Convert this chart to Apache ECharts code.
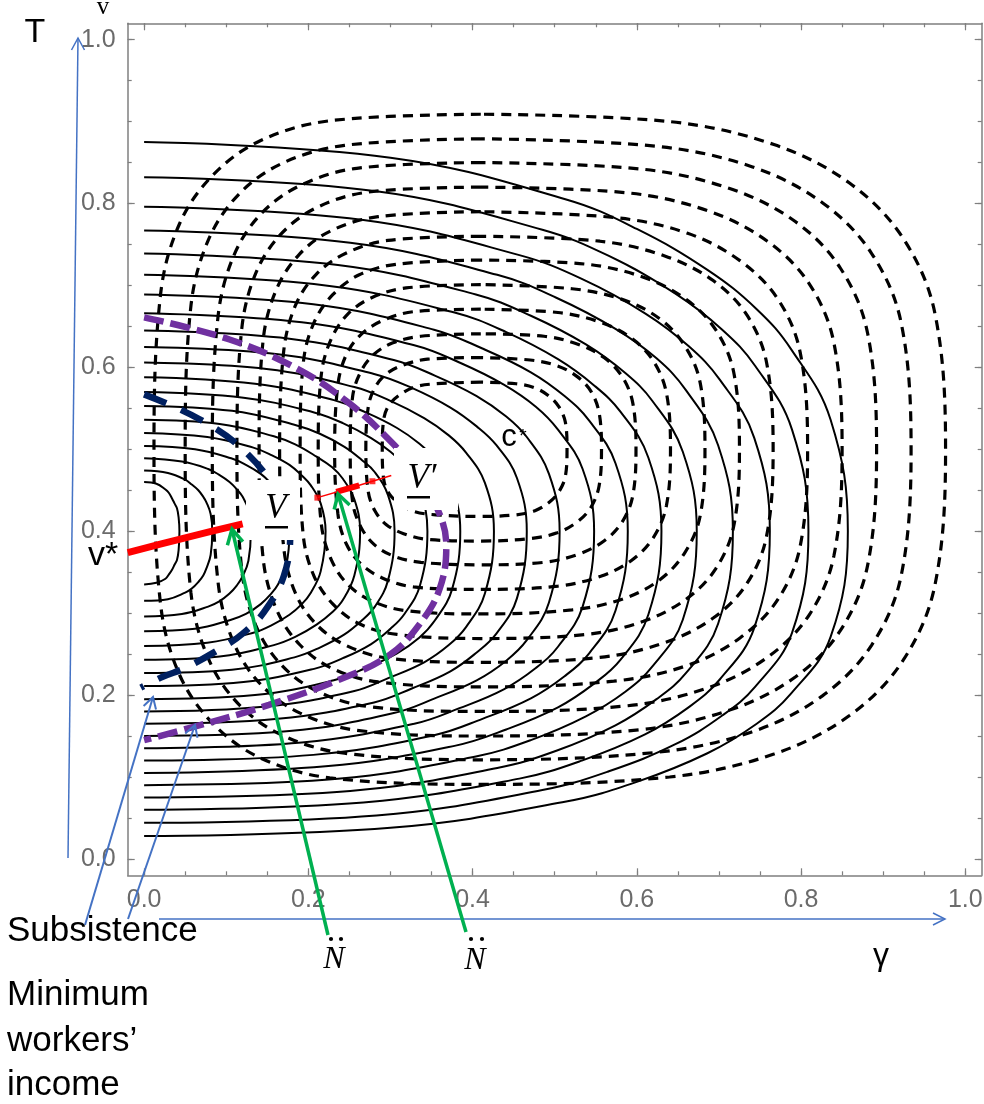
<!DOCTYPE html>
<html><head><meta charset="utf-8">
<script src="https://cdn.jsdelivr.net/npm/echarts@6/dist/echarts.min.js"></script>
<style>html,body{margin:0;padding:0;background:#fff}#c{width:984px;height:1104px}</style>
</head><body><div id="c"></div>
<script>
// ---------- data ----------
const majorTicks = [0, 0.2, 0.4, 0.6, 0.8, 1.0];
const minorTicks = [0, 0.05, 0.1, 0.15, 0.2, 0.25, 0.3, 0.35, 0.4, 0.45, 0.5, 0.55, 0.6, 0.65, 0.7, 0.75, 0.8, 0.85, 0.9, 0.95, 1.0];

// solid level curves (opening to the left), outermost first
const solidCurves = [
 [[0,.875],[.300,.856],[.514,.805],[.600,.769],[.686,.719],[.746,.671],[.788,.622],[.836,.536],[.857,.400],[.836,.271],[.788,.202],[.746,.165],[.686,.129],[.600,.094],[.514,.070],[.300,.038],[0,.028]],
 [[0,.832],[.283,.815],[.485,.768],[.566,.736],[.647,.690],[.704,.646],[.744,.602],[.789,.524],[.809,.400],[.789,.276],[.744,.210],[.704,.175],[.647,.140],[.566,.107],[.485,.084],[.283,.053],[0,.044]],
 [[0,.796],[.267,.780],[.457,.737],[.533,.708],[.610,.666],[.663,.626],[.701,.585],[.743,.514],[.762,.400],[.743,.282],[.701,.219],[.663,.185],[.610,.152],[.533,.120],[.457,.098],[.267,.069],[0,.060]],
 [[0,.767],[.251,.752],[.430,.713],[.502,.685],[.574,.647],[.624,.611],[.660,.572],[.699,.505],[.717,.400],[.699,.287],[.660,.227],[.624,.195],[.574,.163],[.502,.132],[.430,.111],[.251,.083],[0,.075]],
 [[0,.739],[.236,.725],[.404,.689],[.471,.663],[.538,.628],[.586,.593],[.619,.559],[.656,.497],[.673,.400],[.656,.292],[.619,.235],[.586,.204],[.538,.174],[.471,.145],[.404,.125],[.236,.098],[0,.090]],
 [[0,.713],[.221,.700],[.378,.667],[.441,.643],[.504,.610],[.548,.578],[.580,.546],[.614,.490],[.630,.400],[.614,.298],[.580,.243],[.548,.214],[.504,.185],[.441,.158],[.378,.138],[.221,.113],[0,.105]],
 [[0,.689],[.206,.677],[.353,.646],[.412,.623],[.471,.594],[.512,.565],[.542,.535],[.574,.483],[.589,.400],[.574,.303],[.542,.251],[.512,.223],[.471,.196],[.412,.171],[.353,.151],[.206,.127],[0,.120]],
 [[0,.666],[.192,.655],[.329,.627],[.384,.606],[.438,.579],[.477,.552],[.504,.524],[.534,.476],[.548,.400],[.534,.308],[.504,.259],[.477,.233],[.438,.207],[.384,.184],[.329,.165],[.192,.142],[0,.135]],
 [[0,.645],[.177,.635],[.304,.609],[.354,.590],[.405,.565],[.441,.540],[.466,.515],[.493,.470],[.506,.400],[.493,.313],[.466,.267],[.441,.242],[.405,.218],[.354,.196],[.304,.178],[.177,.156],[0,.150]],
 [[0,.625],[.163,.616],[.280,.592],[.326,.575],[.373,.551],[.405,.528],[.429,.505],[.454,.465],[.466,.400],[.454,.318],[.429,.275],[.405,.252],[.373,.229],[.326,.208],[.280,.191],[.163,.171],[0,.165]],
 [[0,.606],[.149,.598],[.256,.576],[.298,.560],[.341,.538],[.371,.517],[.392,.496],[.415,.459],[.426,.400],[.415,.324],[.392,.283],[.371,.261],[.341,.240],[.298,.221],[.256,.205],[.149,.186],[0,.180]],
 [[0,.588],[.135,.580],[.231,.560],[.270,.545],[.308,.526],[.335,.507],[.354,.488],[.375,.454],[.385,.400],[.375,.329],[.354,.291],[.335,.270],[.308,.251],[.270,.233],[.231,.218],[.135,.200],[0,.195]],
 [[0,.570],[.121,.563],[.207,.545],[.242,.532],[.276,.514],[.300,.497],[.317,.480],[.336,.449],[.345,.400],[.336,.334],[.317,.299],[.300,.281],[.276,.262],[.242,.245],[.207,.232],[.121,.216],[0,.211]],
 [[0,.553],[.107,.547],[.183,.530],[.214,.519],[.244,.503],[.265,.487],[.281,.472],[.297,.444],[.305,.400],[.297,.340],[.281,.308],[.265,.291],[.244,.274],[.214,.258],[.183,.246],[.107,.231],[0,.227]],
 [[0,.536],[.092,.531],[.158,.516],[.184,.506],[.210,.491],[.229,.478],[.242,.464],[.256,.439],[.263,.400],[.256,.346],[.242,.316],[.229,.301],[.210,.286],[.184,.271],[.158,.261],[.092,.247],[0,.243]],
 [[0,.520],[.077,.515],[.133,.502],[.155,.493],[.177,.481],[.192,.468],[.203,.456],[.215,.434],[.221,.400],[.215,.351],[.203,.325],[.192,.311],[.177,.298],[.155,.285],[.133,.276],[.077,.264],[0,.260]],
 [[0,.504],[.062,.500],[.106,.489],[.124,.481],[.142,.470],[.154,.459],[.163,.449],[.173,.430],[.177,.400],[.173,.358],[.163,.335],[.154,.323],[.142,.311],[.124,.299],[.106,.292],[.062,.281],[0,.278]],
 [[0,.489],[.046,.485],[.078,.476],[.091,.469],[.104,.460],[.113,.451],[.120,.442],[.127,.426],[.130,.400],[.127,.364],[.120,.345],[.113,.334],[.104,.324],[.091,.314],[.078,.308],[.046,.299],[0,.296]],
 [[0,.474],[.029,.471],[.050,.463],[.058,.457],[.066,.450],[.072,.442],[.076,.435],[.081,.421],[.083,.400],[.081,.371],[.076,.355],[.072,.346],[.066,.338],[.058,.330],[.050,.325],[.029,.317],[0,.315]],
 [[0,.460],[.015,.458],[.026,.451],[.030,.447],[.034,.440],[.037,.434],[.040,.428],[.042,.417],[.043,.400],[.042,.377],[.040,.365],[.037,.359],[.034,.353],[.030,.347],[.026,.342],[.015,.337],[0,.335]]
];

// dashed closed orbits around c*, outermost first
const orbitCurves = [
 [[.410,.909],[.226,.901],[.142,.877],[.084,.835],[.043,.775],[.020,.689],[.012,.500],[.020,.311],[.043,.225],[.084,.165],[.142,.123],[.226,.099],[.410,.091],[.640,.100],[.767,.128],[.859,.175],[.924,.242],[.963,.334],[.976,.500],[.963,.666],[.924,.758],[.859,.825],[.767,.872],[.640,.900],[.410,.909]],
 [[.410,.879],[.244,.871],[.168,.849],[.115,.811],[.078,.755],[.057,.675],[.050,.500],[.057,.325],[.078,.245],[.115,.189],[.168,.151],[.244,.129],[.410,.121],[.623,.130],[.740,.155],[.826,.199],[.886,.261],[.922,.346],[.934,.500],[.922,.654],[.886,.739],[.826,.801],[.740,.845],[.623,.870],[.410,.879]],
 [[.410,.850],[.259,.843],[.190,.822],[.142,.787],[.109,.736],[.090,.662],[.083,.500],[.090,.338],[.109,.264],[.142,.213],[.190,.178],[.259,.157],[.410,.150],[.606,.158],[.714,.182],[.793,.222],[.848,.279],[.881,.358],[.892,.500],[.881,.642],[.848,.721],[.793,.778],[.714,.818],[.606,.842],[.410,.850]],
 [[.410,.820],[.273,.814],[.210,.795],[.166,.762],[.136,.715],[.119,.648],[.113,.500],[.119,.352],[.136,.285],[.166,.238],[.210,.205],[.273,.186],[.410,.180],[.589,.187],[.687,.209],[.759,.246],[.810,.298],[.840,.370],[.850,.500],[.840,.630],[.810,.702],[.759,.754],[.687,.791],[.589,.813],[.410,.820]],
 [[.410,.790],[.285,.784],[.228,.767],[.189,.738],[.161,.695],[.145,.634],[.140,.500],[.145,.366],[.161,.305],[.189,.262],[.228,.233],[.285,.216],[.410,.210],[.572,.217],[.661,.236],[.726,.270],[.772,.317],[.799,.382],[.808,.500],[.799,.618],[.772,.683],[.726,.730],[.661,.764],[.572,.783],[.410,.790]],
 [[.410,.760],[.297,.755],[.245,.739],[.209,.713],[.184,.675],[.170,.620],[.165,.500],[.170,.380],[.184,.325],[.209,.287],[.245,.261],[.297,.245],[.410,.240],[.555,.246],[.634,.264],[.693,.294],[.734,.336],[.758,.394],[.766,.500],[.758,.606],[.734,.664],[.693,.706],[.634,.736],[.555,.754],[.410,.760]],
 [[.410,.731],[.308,.726],[.262,.713],[.230,.689],[.207,.655],[.194,.607],[.190,.500],[.194,.393],[.207,.345],[.230,.311],[.262,.287],[.308,.274],[.410,.269],[.538,.274],[.608,.290],[.660,.317],[.696,.354],[.718,.406],[.725,.500],[.718,.594],[.696,.646],[.660,.683],[.608,.710],[.538,.726],[.410,.731]],
 [[.410,.701],[.319,.697],[.277,.685],[.248,.665],[.228,.635],[.216,.593],[.212,.500],[.216,.407],[.228,.365],[.248,.335],[.277,.315],[.319,.303],[.410,.299],[.521,.304],[.582,.317],[.627,.340],[.658,.373],[.677,.418],[.683,.500],[.677,.582],[.658,.627],[.627,.660],[.582,.683],[.521,.696],[.410,.701]],
 [[.410,.671],[.328,.668],[.290,.657],[.264,.640],[.246,.615],[.236,.579],[.232,.500],[.236,.421],[.246,.385],[.264,.360],[.290,.343],[.328,.332],[.410,.329],[.504,.333],[.556,.345],[.593,.364],[.620,.392],[.636,.431],[.641,.500],[.636,.569],[.620,.608],[.593,.636],[.556,.655],[.504,.667],[.410,.671]],
 [[.410,.641],[.337,.638],[.303,.630],[.280,.616],[.264,.595],[.254,.565],[.251,.500],[.254,.435],[.264,.405],[.280,.384],[.303,.370],[.337,.362],[.410,.359],[.487,.362],[.529,.372],[.560,.388],[.582,.411],[.595,.443],[.599,.500],[.595,.557],[.582,.589],[.560,.612],[.529,.628],[.487,.638],[.410,.641]],
 [[.410,.612],[.345,.610],[.316,.603],[.295,.592],[.281,.575],[.273,.552],[.270,.500],[.273,.448],[.281,.425],[.295,.408],[.316,.397],[.345,.390],[.410,.388],[.470,.391],[.503,.398],[.527,.411],[.544,.429],[.554,.455],[.557,.500],[.554,.545],[.544,.571],[.527,.589],[.503,.602],[.470,.609],[.410,.612]],
 [[.410,.582],[.355,.580],[.329,.576],[.312,.567],[.299,.555],[.292,.538],[.290,.500],[.292,.462],[.299,.445],[.312,.433],[.329,.424],[.355,.420],[.410,.418],[.453,.420],[.476,.425],[.493,.435],[.505,.448],[.513,.467],[.515,.500],[.513,.533],[.505,.552],[.493,.565],[.476,.575],[.453,.580],[.410,.582]]
];

// minimum workers' income curve (purple) and subsistence curve (navy)
const purpleCurve = [[0,.661],[.104,.634],[.189,.597],[.250,.556],[.295,.515],[.330,.475],[.356,.430],[.368,.383],[.360,.330],[.335,.286],[.299,.249],[.238,.219],[.152,.188],[.067,.163],[0,.145]];
const navyCurve = [[0,.567],[.067,.537],[.120,.500],[.160,.450],[.178,.400],[.170,.345],[.145,.300],[.120,.275],[.100,.261],[.052,.234],[.022,.222],[-.004,.209]];

// v* path (thick red) and its continuation (thin red)
const redThick = [[-.02,.374],[.05,.392],[.12,.409]];
const redThin = [[.211,.441],[.245,.451],[.278,.461],[.301,.468]];
const redThinBold = [[.234,.448],[.262,.456]];
const redMarkers = [[.211,.441],[.278,.461]];

// ---------- chart ----------
const AX = '#7f7f7f';
function axisDef(pos, ticks, showLabels, len, showLine) {
  return {
    type: 'value', min: -0.02, max: 1.02, position: pos,
    axisLine: {show: showLine, onZero: false, lineStyle: {color: AX, width: 1.5}},
    axisTick: {show: true, inside: true, length: len, customValues: ticks, lineStyle: {color: AX, width: 1.2}},
    axisLabel: {show: showLabels, customValues: ticks, margin: 12, color: '#6b6b6b', fontSize: 25,
      fontFamily: '"Liberation Sans Narrow", "Liberation Sans", Arial, sans-serif',
      formatter: v => v.toFixed(1)},
    splitLine: {show: false}
  };
}

const series = [];
orbitCurves.forEach(d => series.push({type: 'line', data: d, smooth: 0.35, showSymbol: false, silent: true,
  xAxisIndex: 0, yAxisIndex: 0, z: 3, lineStyle: {color: '#000', width: 3.2, type: [10, 7]}}));
solidCurves.forEach(d => series.push({type: 'line', data: d, smooth: 0.4, showSymbol: false, silent: true,
  xAxisIndex: 0, yAxisIndex: 0, z: 4, lineStyle: {color: '#000', width: 2}}));
series.push({type: 'line', data: purpleCurve, smooth: 0.4, showSymbol: false, silent: true, z: 5,
  lineStyle: {color: '#7030a0', width: 6.5, type: [20, 7]}});
series.push({type: 'line', data: navyCurve, smooth: 0.4, showSymbol: false, silent: true, z: 5,
  lineStyle: {color: '#002060', width: 6.5, type: [24, 16]}});
series.push({type: 'line', data: redThick, smooth: 0.3, showSymbol: false, silent: true, z: 6,
  lineStyle: {color: '#ff0000', width: 7}});
series.push({type: 'line', data: redThin, showSymbol: false, silent: true, z: 6,
  lineStyle: {color: '#ff0000', width: 1.5}});
series.push({type: 'line', data: redThinBold, showSymbol: false, silent: true, z: 6,
  lineStyle: {color: '#ff0000', width: 6}});
series.push({type: 'scatter', data: redMarkers, symbol: 'rect', symbolSize: 6, silent: true, z: 6,
  itemStyle: {color: '#ff0000'}});

const SANS = '"Liberation Sans", Arial, sans-serif';
const SERIF = '"Liberation Serif", "Times New Roman", serif';
function txt(text, x, y, font, align, extra) {
  return Object.assign({type: 'text', x: x, y: y, z: 100, silent: true,
    style: {text: text, font: font, fill: '#000', align: align || 'center', verticalAlign: 'middle',
      textAlign: align || 'center', textVerticalAlign: 'middle'}}, extra || {});
}
function line(pts, color, w) {
  return {type: 'polyline', z: 90, silent: true, shape: {points: pts}, style: {stroke: color, lineWidth: w, fill: null}};
}
function dot(cx, cy) {
  return {type: 'circle', z: 100, silent: true, shape: {cx: cx, cy: cy, r: 2.1}, style: {fill: '#000'}};
}
const BLUE = '#4472c4', GREEN = '#00b050';
const graphics = [
  // white label boxes
  {type: 'rect', z: 80, silent: true, shape: {x: 246, y: 480, width: 54, height: 60}, style: {fill: '#fff'}},
  {type: 'rect', z: 80, silent: true, shape: {x: 394, y: 448, width: 64, height: 62}, style: {fill: '#fff'}},
  txt('V', 276, 509, 'italic 35px ' + SERIF),
  {type: 'rect', z: 100, silent: true, shape: {x: 265, y: 526, width: 23, height: 2.5}, style: {fill: '#000'}},
  txt('V\u2032', 422, 479, 'italic 35px ' + SERIF),
  {type: 'rect', z: 100, silent: true, shape: {x: 407, y: 496, width: 23, height: 2.5}, style: {fill: '#000'}},
  txt('c', 509, 437, '31px ' + SANS),
  txt('*', 523, 437, '19px ' + SANS),
  // outside texts
  txt('T', 35, 33, '34px ' + SANS),
  txt('v', 103, 7, '25px ' + SERIF),
  txt('v*', 88, 556, '34px ' + SANS, 'left'),
  txt('\u03b3', 881, 956, '32px ' + SANS),
  txt('Subsistence', 7, 931, '35px ' + SANS, 'left'),
  txt('Minimum', 7, 995, '35px ' + SANS, 'left'),
  txt('workers\u2019', 7, 1041, '35px ' + SANS, 'left'),
  txt('income', 7, 1085, '35px ' + SANS, 'left'),
  txt('N', 334, 960, 'italic 32px ' + SERIF),
  txt('N', 475, 961, 'italic 32px ' + SERIF),
  dot(331, 939), dot(341, 939), dot(471, 939), dot(482, 939),
  // blue axis arrows
  line([[68, 858], [78, 38]], BLUE, 1.5),
  line([[71.5, 50], [78, 38], [84.5, 50]], BLUE, 1.5),
  line([[159, 919], [945, 919]], BLUE, 1.5),
  line([[933, 913], [945, 919], [933, 925]], BLUE, 1.5),
  // subsistence / minimum income arrows
  line([[85, 925], [153, 697]], BLUE, 2),
  line([[143.6, 705.9], [153, 697], [156, 709.6]], BLUE, 2),
  line([[128, 919], [195, 725]], BLUE, 2),
  line([[185.2, 733.5], [195, 725], [197.5, 737.8]], BLUE, 2),
  // green arrows
  line([[328, 935], [232, 529]], GREEN, 3.5),
  line([[227.4, 545.3], [232, 529], [242.9, 541.7]], GREEN, 3.5),
  line([[466, 932], [338, 494]], GREEN, 3.5),
  line([[334.2, 509.5], [338, 494], [349.6, 505.1]], GREEN, 3.5)
];

const chart = echarts.init(document.getElementById('c'), null, {renderer: 'canvas'});
chart.setOption({
  animation: false,
  backgroundColor: '#fff',
  grid: {left: 127.7, top: 23.3, width: 854, height: 852, containLabel: false, outerBoundsMode: 'none'},
  xAxis: [axisDef('bottom', majorTicks, true, 7, true), axisDef('bottom', minorTicks, false, 4, false),
          axisDef('top', majorTicks, false, 7, true), axisDef('top', minorTicks, false, 4, false)],
  yAxis: [axisDef('left', majorTicks, true, 7, true), axisDef('left', minorTicks, false, 4, false),
          axisDef('right', majorTicks, false, 7, true), axisDef('right', minorTicks, false, 4, false)],
  series: series,
  graphic: {elements: graphics}
});
</script></body></html>
